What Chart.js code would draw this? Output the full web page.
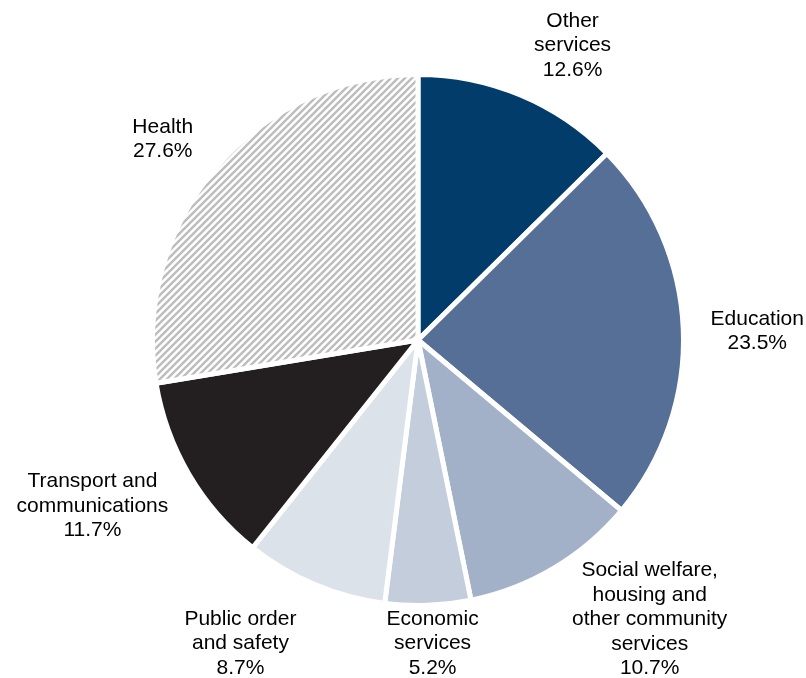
<!DOCTYPE html>
<html lang="en">
<head>
    <meta charset="UTF-8">
    <title>Expenses by purpose</title>
    <script src="https://cdn.jsdelivr.net/npm/chart.js"></script>
    <style>
        html, body {
            margin: 0;
            padding: 0;
            background: #ffffff;
        }
        #wrap {
            width: 806px;
            height: 678px;
        }
    </style>
</head>
<body>
    <div id="wrap"><canvas id="pieChart" width="806" height="678"></canvas></div>

    <script>
        // Share of expenses by purpose (%), clockwise from 12 o'clock
        const categories = [
            ['Other', 'services'],
            ['Education'],
            ['Social welfare,', 'housing and', 'other community', 'services'],
            ['Economic', 'services'],
            ['Public order', 'and safety'],
            ['Transport and', 'communications'],
            ['Health']
        ];
        const shares = [12.6, 23.5, 10.7, 5.2, 8.7, 11.7, 27.6];

        // Hatched fill for the Health slice
        function hatchPattern() {
            const size = 7;
            const c = document.createElement('canvas');
            c.width = size;
            c.height = size;
            const g = c.getContext('2d');
            g.fillStyle = '#ffffff';
            g.fillRect(0, 0, size, size);
            g.strokeStyle = '#bdbdbd';
            g.lineWidth = 2.4;
            g.beginPath();
            g.moveTo(-1, size + 1);
            g.lineTo(size + 1, -1);
            g.moveTo(-2, 2);
            g.lineTo(2, -2);
            g.moveTo(size - 2, size + 2);
            g.lineTo(size + 2, size - 2);
            g.stroke();
            return g.createPattern(c, 'repeat');
        }

        const colors = ['#023c6b', '#566f96', '#a3b1c8', '#c3cddc', '#dce2ea', '#231f20', hatchPattern()];

        // nudges for each label, from the slice's mid-angle point outside the pie
        const labelNudge = [[26, 13], [6, 5], [61, -7], [2, -30], [-48, -4], [-38, -3], [-1, 15]];

        const sliceLabels = {
            id: 'sliceLabels',
            afterDatasetsDraw(chart) {
                const ctx = chart.ctx;
                const arcs = chart.getDatasetMeta(0).data;
                ctx.save();
                ctx.font = '21px "Liberation Sans", Arial, sans-serif';
                ctx.fillStyle = '#000000';
                ctx.textAlign = 'center';
                ctx.textBaseline = 'middle';
                const lineH = 24.5;
                arcs.forEach((arc, i) => {
                    const p = arc.getProps(['x', 'y', 'startAngle', 'endAngle', 'outerRadius'], true);
                    const mid = (p.startAngle + p.endAngle) / 2;
                    const dist = p.outerRadius + 68;
                    const cx = p.x + Math.cos(mid) * dist + labelNudge[i][0];
                    const cy = p.y + Math.sin(mid) * dist + labelNudge[i][1];
                    const lines = categories[i].concat([shares[i].toFixed(1) + '%']);
                    const top = cy - (lines.length - 1) * lineH / 2;
                    lines.forEach((t, j) => ctx.fillText(t, cx, top + j * lineH));
                });
                ctx.restore();
            }
        };

        new Chart(document.getElementById('pieChart'), {
            type: 'pie',
            data: {
                labels: categories.map(c => c.join(' ')),
                datasets: [{
                    data: shares,
                    backgroundColor: colors,
                    borderColor: '#ffffff',
                    borderWidth: 5,
                    hoverBorderWidth: 5
                }]
            },
            options: {
                responsive: false,
                animation: false,
                layout: {
                    padding: { left: 150, right: 120, top: 72, bottom: 70 }
                },
                plugins: {
                    legend: { display: false },
                    tooltip: { enabled: false }
                }
            },
            plugins: [sliceLabels]
        });
    </script>
</body>
</html>
